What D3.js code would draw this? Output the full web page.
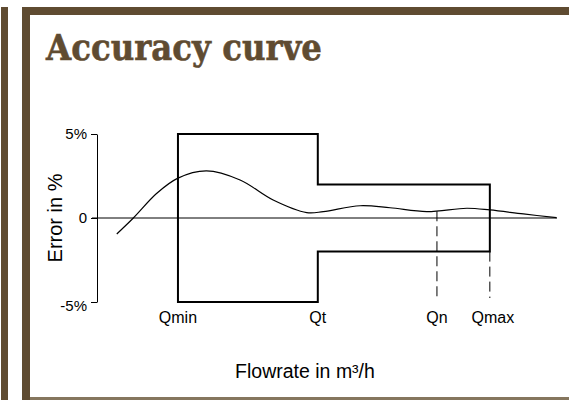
<!DOCTYPE html>
<html>
<head>
<meta charset="utf-8">
<script src="https://cdn.jsdelivr.net/npm/d3@7"></script>
<style>
  body { margin: 0; background: #fff; }
  svg { display: block; }
</style>
</head>
<body>
<svg id="chart"></svg>
<script>
// Error curve (relative flowrate 0-100, error in %)
const curveFlow = [4.3, 7.9, 13.0, 17.5, 23.8, 31.1, 38.3, 45.6, 49.2, 57.2, 63.7, 71.7, 80.4, 85.4, 92.7, 99.9];
const curveError = [-0.95, 0, 1.47, 2.36, 2.8, 2.26, 1.07, 0.32, 0.38, 0.73, 0.61, 0.38, 0.58, 0.48, 0.24, 0.02];

// Flowrate marks on the x axis
const flowLabels = ['Qmin', 'Qt', 'Qn', 'Qmax'];
const flowValues = [17.6, 48, 73.9, 85.4];

// Permitted error limits: lower range (Qmin-Qt) and upper range (Qt-Qmax)
const limitLow = 5;
const limitHigh = 2;

const yTicks = [5, 0, -5];
const yTickLabels = ['5%', '0', '-5%'];

const width = 569;
const height = 400;
const brown = '#5f4b31';

const svg = d3.select('#chart').attr('width', width).attr('height', height);

svg.append('rect').attr('width', width).attr('height', height).attr('fill', '#fff');

//Frame bars
svg.append('rect').attr('x', 1).attr('y', 7).attr('width', 7).attr('height', 393).attr('fill', brown);
svg.append('rect').attr('x', 22).attr('y', 7).attr('width', 8).attr('height', 393).attr('fill', brown);
svg.append('rect').attr('x', 22).attr('y', 7).attr('width', 547).attr('height', 8).attr('fill', brown);
svg.append('rect').attr('x', 30).attr('y', 397).attr('width', 539).attr('height', 3).attr('fill', '#85765e');

//Title
svg
  .append('text')
  .attr('x', 46)
  .attr('y', 60)
  .attr('font-family', 'DejaVu Serif')
  .attr('font-weight', 'bold')
  .attr('font-size', 35)
  .attr('textLength', 276)
  .attr('lengthAdjust', 'spacingAndGlyphs')
  .attr('fill', brown)
  .attr('stroke', brown)
  .attr('stroke-width', 0.6)
  .text('Accuracy curve');

//Scales
const xScale = d3.scaleLinear().domain([0, 100]).range([97, 557]);
const yScale = d3.scaleLinear().domain([-5, 5]).range([302, 134]);

//Y axis
const yAxis = d3
  .axisLeft(yScale)
  .tickValues(yTicks)
  .tickFormat((d, i) => yTickLabels[i])
  .tickSize(6)
  .tickSizeOuter(0)
  .tickPadding(4);

const yG = svg
  .append('g')
  .attr('transform', `translate(${xScale(0)},0)`)
  .call(yAxis);
yG.select('.domain').attr('stroke', '#000');
yG.selectAll('line').attr('stroke', '#000');
yG.selectAll('text')
  .attr('font-family', 'Liberation Sans')
  .attr('font-size', 15)
  .attr('fill', '#000')
  .attr('dy', (d) => (d < 0 ? '0.55em' : '0.32em'));

//Zero line
svg
  .append('line')
  .attr('x1', xScale(0) - 5)
  .attr('x2', xScale(100))
  .attr('y1', yScale(0))
  .attr('y2', yScale(0))
  .attr('stroke', '#000')
  .attr('stroke-width', 1);

//Error limit envelope
const [qMin, qT, qN, qMax] = flowValues;
const envelope = [
  [qMin, limitLow], [qT, limitLow], [qT, limitHigh], [qMax, limitHigh],
  [qMax, -limitHigh], [qT, -limitHigh], [qT, -limitLow], [qMin, -limitLow]
];
svg
  .append('path')
  .datum(envelope)
  .attr('fill', 'none')
  .attr('stroke', '#000')
  .attr('stroke-width', 2)
  .attr('d', d3.line().x((d) => xScale(d[0])).y((d) => yScale(d[1])).curve(d3.curveLinearClosed));

//Dashed drop lines for Qn and Qmax
const curveData = curveFlow.map((f, i) => ({ flow: f, err: curveError[i] }));
const errorLine = d3
  .line()
  .x((d) => xScale(d.flow))
  .y((d) => yScale(d.err))
  .curve(d3.curveCatmullRom);

const qnErr = 0.4;
svg
  .selectAll('.drop')
  .data([[qN, qnErr], [qMax, -limitHigh]])
  .enter()
  .append('line')
  .attr('class', 'drop')
  .attr('x1', (d) => xScale(d[0]))
  .attr('x2', (d) => xScale(d[0]))
  .attr('y1', (d) => yScale(d[1]))
  .attr('y2', yScale(-5) - 4)
  .attr('stroke', '#000')
  .attr('stroke-width', 1)
  .attr('stroke-dasharray', '10,5');

//Error curve
svg
  .append('path')
  .datum(curveData)
  .attr('fill', 'none')
  .attr('stroke', '#000')
  .attr('stroke-width', 1.2)
  .attr('d', errorLine);

//Flowrate labels
svg
  .selectAll('.qlabel')
  .data(flowLabels)
  .enter()
  .append('text')
  .attr('class', 'qlabel')
  .attr('x', (d, i) => xScale(flowValues[i]) + (i === 3 ? 3 : 0))
  .attr('y', 323)
  .attr('text-anchor', 'middle')
  .attr('font-family', 'Liberation Sans')
  .attr('font-size', 16)
  .attr('fill', '#000')
  .text((d) => d);

//Axis titles
svg
  .append('text')
  .attr('transform', `translate(62, 218) rotate(-90)`)
  .attr('text-anchor', 'middle')
  .attr('font-family', 'Liberation Sans')
  .attr('font-size', 20)
  .attr('fill', '#000')
  .text('Error in %');

svg
  .append('text')
  .attr('x', 305)
  .attr('y', 378)
  .attr('text-anchor', 'middle')
  .attr('font-family', 'Liberation Sans')
  .attr('font-size', 19.5)
  .attr('fill', '#000')
  .text('Flowrate in m³/h');
</script>
</body>
</html>
